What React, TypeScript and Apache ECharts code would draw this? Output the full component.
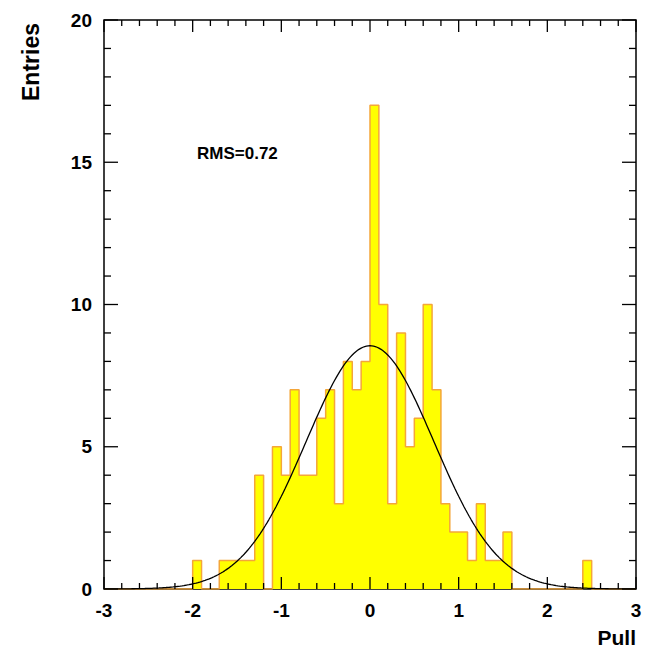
import React, { useEffect, useRef } from "react";
import * as echarts from "echarts";

const binStart = -3.0;
const binWidth = 0.1;
const counts = [
  0, 0, 0, 0, 0, 0, 0, 0, 0, 0,
  1, 0, 0, 1, 1, 1, 1, 4, 0, 5,
  4, 7, 4, 4, 6, 7, 3, 8, 7, 8,
  17, 10, 3, 9, 5, 6, 10, 7, 3, 2,
  2, 1, 3, 1, 1, 2, 0, 0, 0, 0,
  0, 0, 0, 0, 1, 0, 0, 0, 0, 0,
];
const fitAmplitude = 8.55;
const fitMean = 0.0;
const fitSigma = 0.72;
const rmsLabel = "RMS=0.72";
const xTicks = [-3, -2, -1, 0, 1, 2, 3];
const yTicks = [0, 5, 10, 15, 20];
const xMinorStep = 0.2;
const yMinorStep = 1;

const FONT = "Liberation Sans, Arial, Helvetica, sans-serif";

export default function App() {
  const ref = useRef<HTMLDivElement>(null);
  useEffect(() => {
    const chart = echarts.init(ref.current!, null, { renderer: "svg" });
    const step: number[][] = [];
    counts.forEach((c, i) => {
      const lo = +(binStart + i * binWidth).toFixed(2);
      const hi = +(lo + binWidth).toFixed(2);
      step.push([lo, c], [hi, c]);
    });
    const fit: number[][] = [];
    for (let k = 0; k <= 300; k++) {
      const x = -3 + (6 * k) / 300;
      fit.push([x, fitAmplitude * Math.exp(-0.5 * ((x - fitMean) / fitSigma) ** 2)]);
    }
    // tick marks: [side (0 bottom,1 top,2 left,3 right), value, isMajor]
    const ticks: number[][] = [];
    const nx = Math.round((xTicks[xTicks.length - 1] - xTicks[0]) / xMinorStep);
    for (let k = 0; k <= nx; k++) {
      const r = Math.round((xTicks[0] + k * xMinorStep) * 10) / 10;
      const major = Math.abs(r - Math.round(r)) < 1e-6 && xTicks.includes(Math.round(r)) ? 1 : 0;
      ticks.push([0, r, major], [1, r, major]);
    }
    for (let v = yTicks[0]; v <= yTicks[yTicks.length - 1]; v += yMinorStep) {
      const major = yTicks.includes(v) ? 1 : 0;
      ticks.push([2, v, major], [3, v, major]);
    }

    const label = () => ({
      show: true, color: "#000", fontFamily: FONT, fontWeight: "bold", fontSize: 19, margin: 12,
    });
    const noLine = { show: false, onZero: false };
    chart.setOption({
      animation: false,
      grid: { left: 104, right: 16, top: 20, bottom: 60, show: true, borderColor: "#000", borderWidth: 1.5, backgroundColor: "transparent" },
      xAxis: {
        type: "value", min: -3, max: 3, interval: 1,
        axisLine: noLine, splitLine: { show: false }, axisTick: { show: false },
        axisLabel: { ...label(), formatter: (v: number) => (xTicks.includes(v) ? String(v) : "") },
        name: "Pull", nameLocation: "end", nameGap: 0,
        nameTextStyle: { fontFamily: FONT, fontWeight: "bold", fontSize: 21, color: "#000", align: "right", verticalAlign: "top", padding: [38, 0, 0, 0] },
      },
      yAxis: {
        type: "value", min: 0, max: 20, interval: 5,
        axisLine: noLine, splitLine: { show: false }, axisTick: { show: false },
        axisLabel: { ...label(), formatter: (v: number) => (yTicks.includes(v) ? String(v) : "") },
      },
      graphic: [
        {
          type: "text", x: 19, y: 101, rotation: Math.PI / 2,
          style: { text: "Entries", font: `bold 23px ${FONT}`, fill: "#000" },
        },
        {
          type: "text", left: 197, top: 145,
          style: { text: rmsLabel, font: `bold 17px ${FONT}`, fill: "#000" },
        },
      ],
      series: [
        {
          type: "line", data: step, symbol: "none",
          lineStyle: { color: "#f4a63a", width: 1.5 },
          areaStyle: { color: "#ffff00", opacity: 1, origin: "start" },
          z: 2,
        },
        {
          type: "line", data: fit, symbol: "none",
          lineStyle: { color: "#000", width: 1.3 },
          z: 3,
        },
        {
          type: "custom", data: ticks, z: 4, silent: true, clip: false,
          dimensions: ["side", "val", "major"],
          encode: { x: 1, y: 1 },
          renderItem: (params: any, api: any) => {
            const side = api.value(0);
            const v = api.value(1);
            const major = api.value(2) === 1;
            const cs = params.coordSys;
            const style = { stroke: "#000", lineWidth: 1.3 };
            let shape;
            if (side < 2) {
              const px = api.coord([v, 0])[0];
              const len = major ? 12 : 6;
              const yb = side === 0 ? cs.y + cs.height : cs.y;
              const dir = side === 0 ? -1 : 1;
              shape = { x1: px, y1: yb, x2: px, y2: yb + dir * len };
            } else {
              const py = api.coord([0, v])[1];
              const len = major ? 14 : 7;
              const xb = side === 2 ? cs.x : cs.x + cs.width;
              const dir = side === 2 ? 1 : -1;
              shape = { x1: xb, y1: py, x2: xb + dir * len, y2: py };
            }
            return { type: "line", shape, style };
          },
        },
      ],
    });
    return () => chart.dispose();
  }, []);
  return <div ref={ref} style={{ position: "absolute", left: 0, top: 0, width: 652, height: 649 }} />;
}
